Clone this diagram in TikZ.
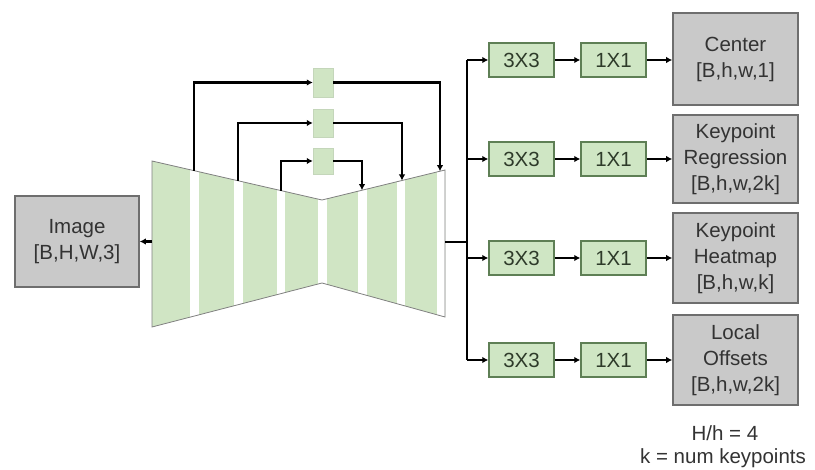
\documentclass[tikz,border=0pt]{standalone}
\usepackage{fontspec}
\setmainfont{Liberation Sans}
\usetikzlibrary{arrows.meta,calc}
\definecolor{netgreen}{HTML}{D0E5C4}
\definecolor{boxgreen}{HTML}{CFE6C4}
\definecolor{greenedge}{HTML}{5E7F55}
\definecolor{greentext}{HTML}{2E3B2A}
\definecolor{grayfill}{HTML}{C9C9C9}
\definecolor{grayedge}{HTML}{6E6E6E}
\definecolor{textgray}{HTML}{333333}
\begin{document}
\begin{tikzpicture}[x=1pt,y=-1pt,
  conn/.style={line width=2.3pt,draw=black},
  arr/.style={conn,-{Latex[length=6pt,width=6.5pt]}},
  convbox/.style={draw=greenedge,line width=1.4pt,fill=boxgreen,minimum width=65pt,minimum height=34pt,inner sep=0pt,text=greentext,font=\fontsize{20.5}{24}\selectfont},
  outbox/.style={draw=grayedge,line width=1.6pt,fill=grayfill,minimum width=125pt,inner sep=0pt,align=center,text=textgray,font=\fontsize{20.5}{26}\selectfont},
  skipbox/.style={fill=netgreen,draw=netgreen!85!gray,line width=0.4pt,minimum width=20pt,inner sep=0pt}]
\useasboundingbox (0,0) rectangle (815,470);

% input image
\node[outbox,minimum width=124pt,minimum height=91pt] (img) at (77,241.5) {Image\\{[B,H,W,3]}};

% encoder-decoder body: green slabs separated by white gaps
\begin{scope}
  \clip (152,161) -- (322,200) -- (445,170) -- (445,317) -- (322,283) -- (152,327) -- cycle;
  \fill[netgreen] (150,150) rectangle (450,330);
  \foreach \a/\b in {190/199,234/243,277/285,318/327,358/367,397/405,437/445}
    \fill[white] (\a,150) rectangle (\b,330);
\end{scope}
\draw[gray,line width=0.8pt] (152,161) -- (322,200) -- (445,170) -- (445,317) -- (322,283) -- (152,327) -- cycle;

% attachment points on the body
\coordinate (e1) at (194,170.6);
\coordinate (e2) at (238,180.7);
\coordinate (e3) at (281,190.6);
\coordinate (d3) at (362,190.2);
\coordinate (d2) at (402,180.5);
\coordinate (d1) at (440,171.2);
\coordinate (encL) at (152,241.5);
\coordinate (encR) at (445,242);
\coordinate (t1) at (467,60);
\coordinate (t4) at (467,360);
\coordinate (tm) at (467,242);

% skip connections
\node[skipbox,minimum height=29pt] (s1) at (323,82.5) {};
\node[skipbox,minimum height=28pt] (s2) at (323,123) {};
\node[skipbox,minimum height=26pt] (s3) at (323,161) {};
\draw[arr] (e1) |- (s1.west);
\draw[arr] (s1.east) -| (d1);
\draw[arr] (e2) |- (s2.west);
\draw[arr] (s2.east) -| (d2);
\draw[arr] (e3) |- (s3.west);
\draw[arr] (s3.east) -| (d3);

% input arrow
\draw[arr] (encL) -- (img.east);

% heads
\node[convbox] (c3a) at (521.5,60) {3X3};
\node[convbox] (c3b) at (521.5,159) {3X3};
\node[convbox] (c3c) at (521.5,258) {3X3};
\node[convbox] (c3d) at (521.5,360) {3X3};
\node[convbox] (c1a) at (613.5,60) {1X1};
\node[convbox] (c1b) at (613.5,159) {1X1};
\node[convbox] (c1c) at (613.5,258) {1X1};
\node[convbox] (c1d) at (613.5,360) {1X1};
\node[outbox,minimum height=92pt] (oa) at (735.5,59) {Center\\{[B,h,w,1]}};
\node[outbox,minimum height=88pt] (ob) at (735.5,159) {Keypoint\\Regression\\{[B,h,w,2k]}};
\node[outbox,minimum height=90pt] (oc) at (735.5,258) {Keypoint\\Heatmap\\{[B,h,w,k]}};
\node[outbox,minimum height=90pt] (od) at (735.5,360) {Local\\Offsets\\{[B,h,w,2k]}};

\draw[conn] (encR) -- (tm);
\draw[conn] (t1) -- (t4);
\foreach \r in {a,b,c,d}{
  \draw[arr] (c3\r.west -| t1) -- (c3\r.west);
  \draw[arr] (c3\r.east) -- (c1\r.west);
  \draw[arr] (c1\r.east) -- (c1\r.east -| o\r.west);
}

% notes
\node[text=textgray,font=\fontsize{20.5}{24}\selectfont] (n1) at (725,433) {H/h = 4};
\node[text=textgray,font=\fontsize{20.5}{24}\selectfont] (n2) at (723,458) {k = num keypoints};
\end{tikzpicture}
\end{document}
